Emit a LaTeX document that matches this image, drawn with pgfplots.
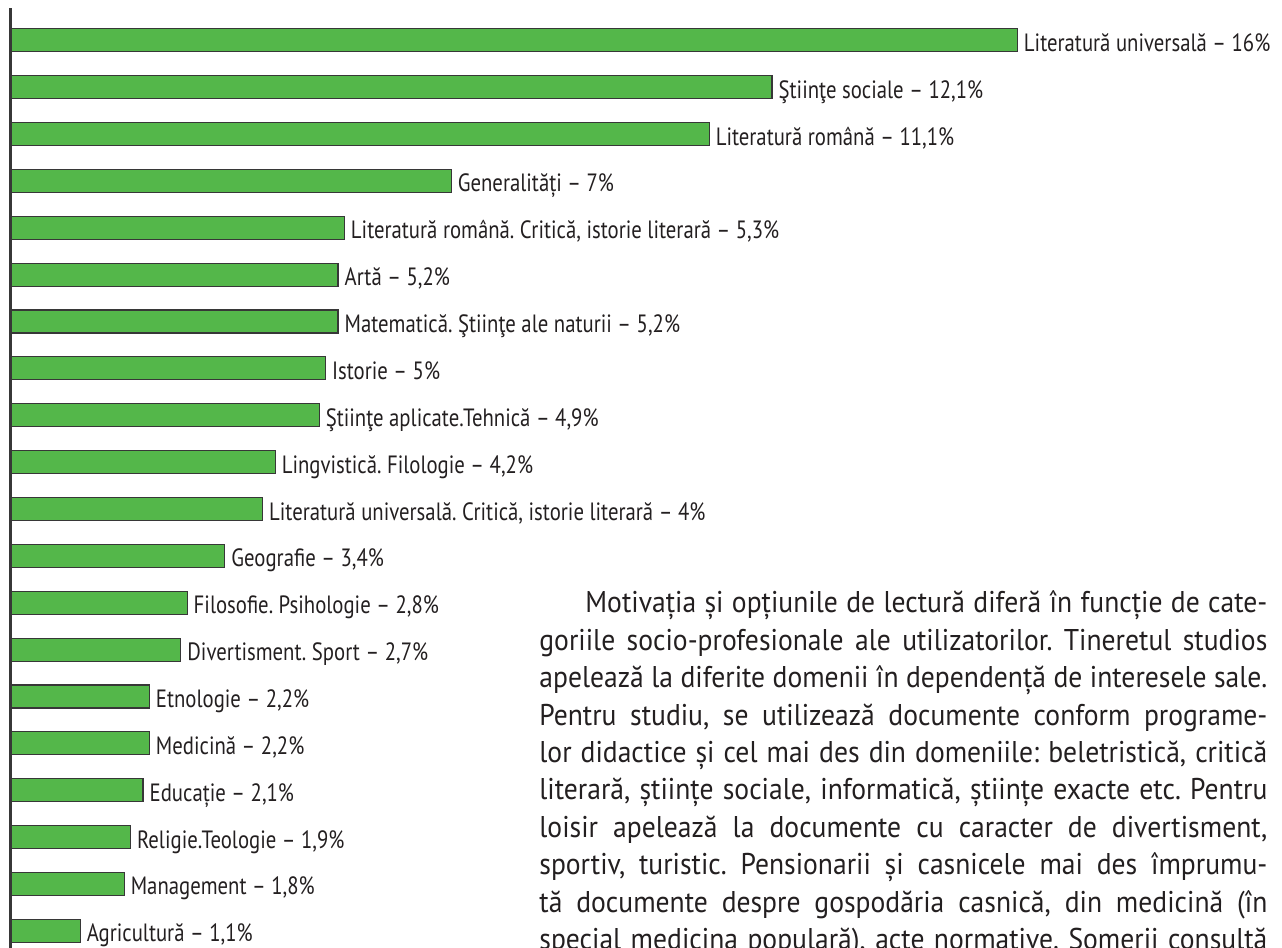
\documentclass[border=0pt]{standalone}
\usepackage{fontspec}
\setmainfont{PT Sans}
\newfontfamily\labelfont[FakeStretch=0.83]{PT Sans}
\newfontfamily\parafont[FakeStretch=0.92]{PT Sans}
\usepackage{pgfplots}
\usepackage{pgfplotstable}
\pgfplotsset{compat=1.18}
\definecolor{bargreen}{RGB}{84,183,74}
\definecolor{barline}{RGB}{55,55,55}
\definecolor{txt}{RGB}{35,31,32}
\frenchspacing

\pgfplotstableread[col sep=semicolon]{
idx;val;label
1;16;Literatură universală – 16\%
2;12.1;Ştiinţe sociale – 12,1\%
3;11.1;Literatură română – 11,1\%
4;7;Generalități – 7\%
5;5.3;Literatură română. Critică, istorie literară – 5,3\%
6;5.2;Artă – 5,2\%
7;5.2;Matematică. Ştiinţe ale naturii –  5,2\%
8;5;Istorie – 5\%
9;4.9;Ştiinţe aplicate.Tehnică – 4,9\%
10;4.2;Lingvistică. Filologie – 4,2\%
11;4;Literatură universală. Critică, istorie literară – 4\%
12;3.4;Geografie – 3,4\%
13;2.8;Filosofie. Psihologie – 2,8\%
14;2.7;Divertisment. Sport – 2,7\%
15;2.2;Etnologie – 2,2\%
16;2.2;Medicină – 2,2\%
17;2.1;Educație – 2,1\%
18;1.9;Religie.Teologie – 1,9\%
19;1.8;Management – 1,8\%
20;1.1;Agricultură – 1,1\%
}\datatable

\begin{document}
\begin{tikzpicture}
\path[use as bounding box] (0,0) rectangle (641pt,474pt);
\begin{axis}[
  at={(5.5pt,0pt)}, anchor=south west,
  scale only axis, width=635.5pt, height=470pt,
  xmin=0, xmax=20.207,
  ymin=0.3109, ymax=20.3665,
  y dir=reverse,
  axis x line=none,
  axis y line*=left,
  y axis line style={line width=1.5pt, draw=barline, -},
  xtick=\empty, ytick=\empty,
  clip=false,
]
\addplot[xbar, bar width=11.5pt, fill=bargreen, draw=barline, line width=0.6pt,
  point meta=explicit symbolic,
  nodes near coords,
  nodes near coords style={anchor=base west, inner sep=0pt, xshift=3pt, yshift=-5.5pt,
    font=\labelfont\fontsize{12.5}{14}\selectfont, text=txt}]
  table[x=val, y=idx, meta=label] {\datatable};
\end{axis}
\node[anchor=base west, inner sep=0pt, text=txt] at (269.5pt,167.5pt) {\parbox[t]{364pt}{\parafont\fontsize{15}{18.7}\selectfont\baselineskip=18.7pt\frenchspacing
\makebox[364pt][s]{\hspace*{23pt}Motivația și opțiunile de lectură diferă în funcție de cate-}\par
\makebox[364pt][s]{goriile socio-profesionale ale utilizatorilor. Tineretul studios}\par
\makebox[364pt][s]{apelează la diferite domenii în dependență de interesele sale.}\par
\makebox[364pt][s]{Pentru studiu, se utilizează documente conform programe-}\par
\makebox[364pt][s]{lor didactice și cel mai des din domeniile: beletristică, critică}\par
\makebox[364pt][s]{literară, științe sociale, informatică, științe exacte etc. Pentru}\par
\makebox[364pt][s]{loisir apelează la documente cu caracter de divertisment,}\par
\makebox[364pt][s]{sportiv, turistic. Pensionarii și casnicele mai des împrumu-}\par
\makebox[364pt][s]{tă documente despre gospodăria casnică, din medicină (în}\par
\makebox[364pt][s]{special medicina populară), acte normative. Somerii consultă}}};
\end{tikzpicture}
\end{document}
